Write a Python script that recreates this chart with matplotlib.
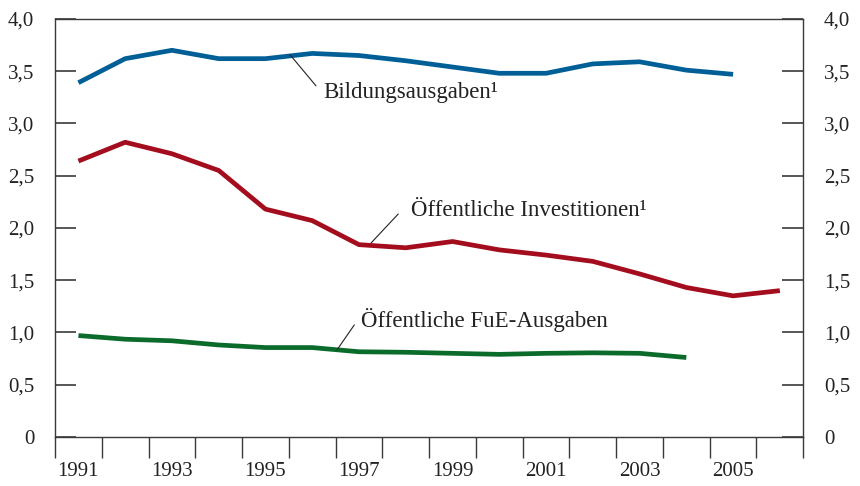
import numpy as np
import matplotlib.pyplot as plt

years = list(range(1991, 2007))

bildung = [3.39, 3.62, 3.70, 3.62, 3.62, 3.67, 3.65, 3.60, 3.54, 3.48, 3.48, 3.57, 3.59, 3.51, 3.47]
invest = [2.64, 2.82, 2.71, 2.55, 2.18, 2.07, 1.84, 1.81, 1.87, 1.79, 1.74, 1.68, 1.56, 1.43, 1.35, 1.40]
fue = [0.97, 0.935, 0.92, 0.88, 0.855, 0.855, 0.815, 0.81, 0.80, 0.79, 0.80, 0.805, 0.80, 0.76]

y_ticks = [0, 0.5, 1.0, 1.5, 2.0, 2.5, 3.0, 3.5, 4.0]
y_labels = ["0", "0,5", "1,0", "1,5", "2,0", "2,5", "3,0", "3,5", "4,0"]

plt.rcParams['font.family'] = ['Liberation Serif', 'DejaVu Serif']
txt = '#222222'
axc = '#3a3a3a'

fig = plt.figure(figsize=(8.6, 4.86), dpi=100)
ax = fig.add_axes([0.064, 0.101, 0.870, 0.860])

def xs(vals):
    # each year sits in the middle of its slot
    return np.arange(len(vals)) + 0.5

ax.plot(xs(bildung), bildung, color='#005f96', lw=3.4, solid_capstyle='butt')
ax.plot(xs(invest), invest, color='#a30d1d', lw=3.4, solid_capstyle='butt')
ax.plot(xs(fue), fue, color='#0b6b2b', lw=3.4, solid_capstyle='butt')

ax.set_xlim(0, len(years))
ax.set_ylim(0, 4.0)

for s in ax.spines.values():
    s.set_color(axc)
    s.set_linewidth(1.0)

ax.set_yticks(y_ticks)
ax.set_yticklabels(y_labels)
ax.tick_params(axis='y', direction='in', length=15, width=1.2, color=axc,
               labelsize=15, labelcolor=txt, pad=15, right=True, labelright=True)

ax.set_xticks(np.arange(len(years) + 1))
ax.set_xticklabels([])
ax.tick_params(axis='x', which='major', direction='out', length=15, width=1.0, color=axc)
odd = [i for i, y in enumerate(years) if y % 2 == 1]
ax.set_xticks([i + 0.5 for i in odd], minor=True)
ax.set_xticklabels([str(years[i]) for i in odd], minor=True)
ax.tick_params(axis='x', which='minor', length=0, pad=18, labelsize=15, labelcolor=txt)

# labels with leader lines
def label(text, pt, end, pos):
    ax.annotate('', xy=pt, xytext=end,
                arrowprops=dict(arrowstyle='-', color='#222222', lw=0.8,
                                shrinkA=0, shrinkB=0))
    ax.text(pos[0], pos[1], text, fontsize=16.5, color=txt, ha='left', va='center')

label('Bildungsausgaben\u00b9', (5.03, 3.655), (5.58, 3.36), (5.73, 3.30))
label('\u00d6ffentliche Investitionen\u00b9', (6.76, 1.857), (7.34, 2.134), (7.61, 2.17))
label('\u00d6ffentliche FuE-Ausgaben', (6.03, 0.833), (6.40, 1.072), (6.55, 1.12))

fig.savefig('out.png', dpi=100)
